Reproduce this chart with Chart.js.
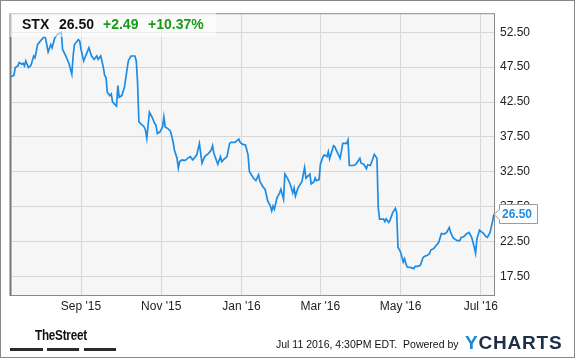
<!DOCTYPE html>
<html>
<head>
<meta charset="utf-8">
<script src="https://cdn.jsdelivr.net/npm/chart.js@4.4.1/dist/chart.umd.min.js"></script>
<style>
    body { margin: 0; background: #ffffff; }
    #wrap { position: relative; width: 575px; height: 358px; font-family: 'Liberation Sans', Arial, sans-serif; }
    #grafico { position: absolute; left: 0; top: 0; }
    #moldura { position: absolute; left: 0; top: 0; width: 573px; height: 356px; border: 1px solid #888888; pointer-events: none; }
    #cabecalho { position: absolute; left: 10px; top: 10px; width: 206px; height: 27px; background: rgba(255, 255, 255, 0.55); }
    .cab { position: absolute; top: 17px; font-size: 14px; line-height: 14px; font-weight: bold; white-space: nowrap; }
    .verde { color: #169c16; }
    #marca { position: absolute; left: 35px; top: 326px; font-size: 15px; font-weight: bold; color: #111111; transform: scaleX(0.78); transform-origin: left; white-space: nowrap; letter-spacing: -0.3px; }
    .barra { position: absolute; top: 348px; height: 3px; background: #2b2b2b; }
    #rodape { position: absolute; left: 276px; top: 338px; font-size: 10.5px; color: #111111; white-space: nowrap; }
    #ycharts { position: absolute; left: 465px; top: 332px; font-size: 19px; font-weight: bold; letter-spacing: 0.8px; color: #1d2e48; white-space: nowrap; }
    #ycharts span { color: #1a8ad6; }
</style>
</head>
<body>
<div id="wrap">
    <canvas id="grafico" width="575" height="358"></canvas>
    <div id="cabecalho"></div>
    <div class="cab" style="left:22px; color:#111111;">STX</div>
    <div class="cab" style="left:59px; color:#111111;">26.50</div>
    <div class="cab verde" style="left:103px;">+2.49</div>
    <div class="cab verde" style="left:148px;">+10.37%</div>
    <div id="marca">TheStreet</div>
    <div class="barra" style="left:10px; width:33px;"></div>
    <div class="barra" style="left:47px; width:32px;"></div>
    <div class="barra" style="left:84px; width:32px;"></div>
    <div id="rodape">Jul 11 2016, 4:30PM EDT.&nbsp; Powered by</div>
    <div id="ycharts"><span>Y</span>CHARTS</div>
    <div id="moldura"></div>
</div>
<script>
const datas = [
    '2015-07-10', '2015-07-12', '2015-07-13', '2015-07-15', '2015-07-16', '2015-07-18', '2015-07-19', '2015-07-20',
    '2015-07-21', '2015-07-23', '2015-07-25', '2015-07-27', '2015-07-28', '2015-07-30', '2015-07-31', '2015-08-02',
    '2015-08-04', '2015-08-05', '2015-08-07', '2015-08-09', '2015-08-10', '2015-08-12', '2015-08-14', '2015-08-16',
    '2015-08-17', '2015-08-18', '2015-08-21', '2015-08-23', '2015-08-25', '2015-08-26', '2015-08-27', '2015-08-30',
    '2015-08-31', '2015-09-01', '2015-09-03', '2015-09-05', '2015-09-07', '2015-09-09', '2015-09-11', '2015-09-13',
    '2015-09-14', '2015-09-16', '2015-09-18', '2015-09-19', '2015-09-20', '2015-09-21', '2015-09-23', '2015-09-24',
    '2015-09-25', '2015-09-28', '2015-09-29', '2015-09-30', '2015-10-02', '2015-10-04', '2015-10-06', '2015-10-07',
    '2015-10-09', '2015-10-12', '2015-10-13', '2015-10-14', '2015-10-15', '2015-10-19', '2015-10-20', '2015-10-21',
    '2015-10-23', '2015-10-25', '2015-10-27', '2015-10-28', '2015-10-29', '2015-10-31', '2015-11-02', '2015-11-03',
    '2015-11-04', '2015-11-06', '2015-11-08', '2015-11-10', '2015-11-11', '2015-11-13', '2015-11-14', '2015-11-15',
    '2015-11-17', '2015-11-18', '2015-11-20', '2015-11-21', '2015-11-23', '2015-11-25', '2015-11-27', '2015-11-28',
    '2015-11-30', '2015-12-02', '2015-12-04', '2015-12-07', '2015-12-09', '2015-12-10', '2015-12-11', '2015-12-14',
    '2015-12-16', '2015-12-17', '2015-12-19', '2015-12-21', '2015-12-23', '2015-12-24', '2015-12-27', '2015-12-29',
    '2015-12-30', '2015-12-31', '2016-01-02', '2016-01-04', '2016-01-06', '2016-01-07', '2016-01-10', '2016-01-12',
    '2016-01-14', '2016-01-15', '2016-01-17', '2016-01-19', '2016-01-21', '2016-01-23', '2016-01-24', '2016-01-25',
    '2016-01-26', '2016-01-28', '2016-01-30', '2016-01-31', '2016-02-02', '2016-02-03', '2016-02-05', '2016-02-07',
    '2016-02-09', '2016-02-10', '2016-02-11', '2016-02-13', '2016-02-16', '2016-02-18', '2016-02-19', '2016-02-22',
    '2016-02-23', '2016-02-25', '2016-02-26', '2016-02-27', '2016-02-29', '2016-03-01', '2016-03-03', '2016-03-04',
    '2016-03-06', '2016-03-07', '2016-03-08', '2016-03-11', '2016-03-12', '2016-03-13', '2016-03-16', '2016-03-18',
    '2016-03-20', '2016-03-21', '2016-03-22', '2016-03-23', '2016-03-26', '2016-03-28', '2016-03-31', '2016-04-01',
    '2016-04-03', '2016-04-05', '2016-04-06', '2016-04-08', '2016-04-10', '2016-04-11', '2016-04-13', '2016-04-14',
    '2016-04-15', '2016-04-18', '2016-04-19', '2016-04-20', '2016-04-22', '2016-04-23', '2016-04-25', '2016-04-27',
    '2016-04-28', '2016-04-29', '2016-05-01', '2016-05-03', '2016-05-04', '2016-05-05', '2016-05-06', '2016-05-09',
    '2016-05-11', '2016-05-12', '2016-05-14', '2016-05-16', '2016-05-18', '2016-05-19', '2016-05-21', '2016-05-23',
    '2016-05-24', '2016-05-26', '2016-05-28', '2016-05-30', '2016-06-01', '2016-06-03', '2016-06-05', '2016-06-07',
    '2016-06-08', '2016-06-10', '2016-06-13', '2016-06-15', '2016-06-16', '2016-06-18', '2016-06-20', '2016-06-22',
    '2016-06-24', '2016-06-26', '2016-06-27', '2016-06-28', '2016-06-30', '2016-07-01', '2016-07-03', '2016-07-05',
    '2016-07-06', '2016-07-08', '2016-07-10', '2016-07-11'
];

const precos = [
    46.13, 46.35, 47.44, 47.68, 48.15, 47.91, 48.05, 47.68,
    48.39, 47.44, 47.77, 49.10, 48.86, 50.74, 50.98, 51.45,
    51.83, 51.69, 49.67, 50.74, 50.28, 51.69, 52.16, 52.40,
    52.50, 50.04, 48.86, 47.91, 46.49, 49.10, 50.74, 51.45,
    51.23, 50.04, 48.39, 49.33, 50.28, 49.10, 48.62, 49.10,
    48.62, 49.10, 47.44, 46.27, 46.03, 43.90, 43.43, 43.66,
    42.49, 41.92, 44.85, 43.19, 43.43, 44.61, 47.20, 48.43,
    49.10, 49.10, 48.39, 45.32, 39.65, 38.94, 38.48, 37.29,
    41.07, 40.36, 39.41, 39.19, 37.99, 38.24, 38.94, 40.36,
    38.94, 38.70, 38.34, 36.82, 35.64, 34.45, 33.04, 33.99,
    34.23, 34.13, 34.23, 34.45, 34.69, 34.23, 34.69, 34.94,
    36.58, 33.75, 34.69, 35.16, 35.64, 36.25, 35.16, 33.60,
    34.69, 33.99, 34.37, 34.69, 36.58, 36.72, 36.72, 37.06,
    37.20, 36.72, 36.44, 36.35, 34.94, 32.57, 31.62, 31.25,
    32.10, 31.15, 30.45, 29.98, 28.32, 27.61, 26.90, 27.61,
    27.15, 28.79, 29.50, 30.02, 28.60, 32.19, 31.58, 30.77,
    29.50, 30.21, 29.03, 30.21, 31.15, 33.14, 31.62, 32.19,
    30.77, 31.06, 31.62, 31.25, 31.39, 33.60, 34.69, 34.94,
    34.69, 35.40, 34.37, 36.25, 36.11, 35.64, 34.45, 36.58,
    36.58, 36.58, 37.06, 33.42, 33.42, 33.60, 34.45, 33.75,
    33.60, 32.95, 33.52, 33.42, 34.45, 35.02, 34.45, 27.37,
    25.73, 25.73, 25.39, 25.77, 25.25, 25.59, 26.66, 27.29,
    26.66, 21.71, 21.00, 19.58, 20.06, 19.36, 18.87, 18.79,
    18.65, 18.97, 18.97, 19.11, 20.21, 20.39, 20.53, 20.77,
    21.34, 21.48, 21.95, 22.42, 23.69, 23.61, 23.83, 24.54,
    23.83, 23.04, 22.66, 22.66, 23.12, 23.22, 23.61, 23.83,
    23.12, 21.71, 20.86, 22.90, 24.17, 23.97, 23.69, 23.22,
    23.12, 23.83, 25.49, 26.50
];

const datasDosTicks = ['2015-09-01', '2015-11-01', '2016-01-01', '2016-03-01', '2016-05-01', '2016-07-01'];
const rotulosDosTicks = ["Sep '15", "Nov '15", "Jan '16", "Mar '16", "May '16", "Jul '16"];
const ticksDePreco = [17.5, 22.5, 27.5, 32.5, 37.5, 42.5, 47.5, 52.5];

const inicio = '2015-07-09';
const fim = '2016-07-11';

// dias desde 1 set 2015
function dia(s) {
    return (Date.parse(s) - Date.parse('2015-09-01')) / 86400000;
}

const pontos = datas.map((d, i) => ({ x: dia(d), y: precos[i] }));

const corLinha = '#1e8ce3';

const estiloDoTexto = {
    color: '#222222',
    font: {
        family: "'Liberation Sans', Arial, sans-serif",
        size: 12
    }
};

const pluginFundo = {
    id: 'fundo',
    beforeDraw(chart) {
        const { ctx, chartArea: a } = chart;
        ctx.save();
        ctx.fillStyle = '#f6f6f6';
        ctx.fillRect(a.left, a.top, a.right - a.left, a.bottom - a.top);
        ctx.restore();
    },
    afterDraw(chart) {
        const { ctx, chartArea: a } = chart;
        ctx.save();
        ctx.strokeStyle = '#8a8a8a';
        ctx.lineWidth = 1;
        ctx.strokeRect(a.left + 0.5, a.top + 0.5, a.right - a.left, a.bottom - a.top);
        ctx.strokeStyle = '#777777';
        ctx.lineWidth = 2;
        ctx.beginPath();
        ctx.moveTo(a.left + 0.5, a.top);
        ctx.lineTo(a.left + 0.5, a.bottom + 1);
        ctx.stroke();

        // etiqueta do ultimo preco
        const ultimo = precos[precos.length - 1];
        const px = chart.scales.x.getPixelForValue(dia(datas[datas.length - 1]));
        const py = Math.round(chart.scales.y.getPixelForValue(ultimo));
        ctx.fillStyle = '#ffffff';
        ctx.strokeStyle = '#9a9a9a';
        ctx.lineWidth = 1;
        ctx.beginPath();
        ctx.moveTo(px, py + 0.5);
        ctx.lineTo(px + 5.5, py - 4.5);
        ctx.lineTo(px + 5.5, py - 9.5);
        ctx.lineTo(px + 43.5, py - 9.5);
        ctx.lineTo(px + 43.5, py + 9.5);
        ctx.lineTo(px + 5.5, py + 9.5);
        ctx.lineTo(px + 5.5, py + 5.5);
        ctx.closePath();
        ctx.fill();
        ctx.stroke();
        ctx.fillStyle = corLinha;
        ctx.font = "bold 12px 'Liberation Sans', Arial, sans-serif";
        ctx.textBaseline = 'middle';
        ctx.textAlign = 'left';
        ctx.fillText(ultimo.toFixed(2), px + 8, py + 1);
        ctx.restore();
    }
};

const ctxGrafico = document.getElementById('grafico');
new Chart(ctxGrafico, {
    type: 'line',
    data: {
        datasets: [{
            label: 'STX',
            data: pontos,
            borderColor: corLinha,
            borderWidth: 1.7,
            pointRadius: 0,
            tension: 0,
            fill: false
        }]
    },
    options: {
        responsive: false,
        animation: false,
        devicePixelRatio: 1,
        layout: {
            padding: { top: 10, left: 10, right: 0, bottom: 0 }
        },
        plugins: {
            legend: { display: false },
            tooltip: { enabled: false }
        },
        scales: {
            x: {
                type: 'linear',
                min: dia(inicio),
                max: dia(fim),
                afterBuildTicks(scale) {
                    scale.ticks = datasDosTicks.map(d => ({ value: dia(d) }));
                },
                afterFit(scale) {
                    scale.height = 63;
                },
                grid: {
                    color: '#d7d7d7',
                    drawTicks: false
                },
                border: { display: false },
                ticks: {
                    ...estiloDoTexto,
                    padding: 4,
                    maxRotation: 0,
                    minRotation: 0,
                    autoSkip: false,
                    callback: (v, i) => rotulosDosTicks[i]
                }
            },
            y: {
                type: 'linear',
                position: 'right',
                min: 14.87,
                max: 55.23,
                afterBuildTicks(scale) {
                    scale.ticks = ticksDePreco.map(v => ({ value: v }));
                },
                afterFit(scale) {
                    scale.width = 81;
                },
                grid: {
                    color: '#d7d7d7',
                    drawTicks: false
                },
                border: { display: false },
                ticks: {
                    ...estiloDoTexto,
                    padding: 6,
                    autoSkip: false,
                    callback: v => v.toFixed(2)
                }
            }
        }
    },
    plugins: [pluginFundo]
});
</script>
</body>
</html>
